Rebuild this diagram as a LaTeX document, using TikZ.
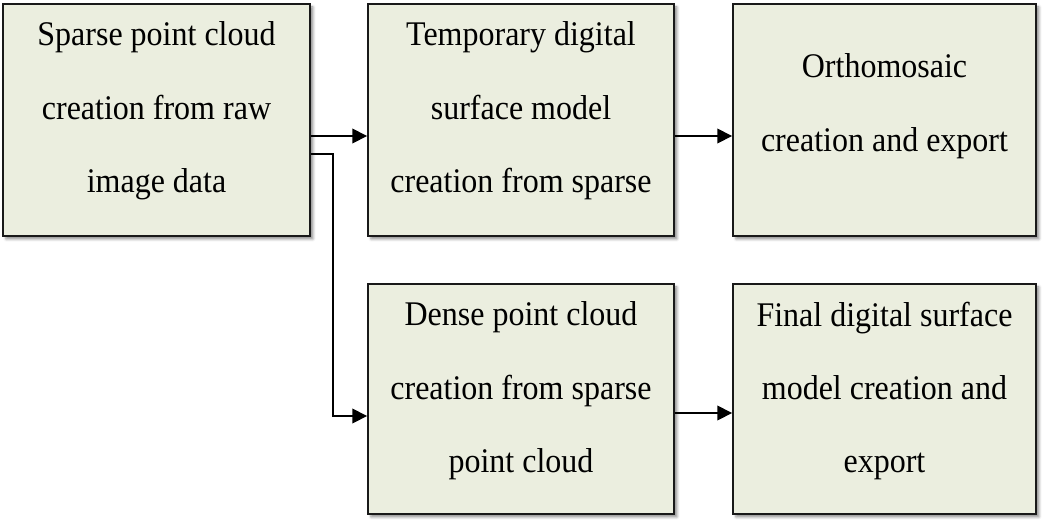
\documentclass[tikz,border=0pt]{standalone}
\usepackage{fontspec}
\setmainfont{Liberation Serif}
\usetikzlibrary{arrows.meta,shadows.blur}
\definecolor{boxfill}{RGB}{235,238,223}
\definecolor{boxline}{RGB}{25,25,25}
\tikzset{
  x=0.75pt, y=-0.75pt,
  stage/.style={draw=boxline, line width=1.4pt, fill=boxfill, inner sep=0pt,
    blur shadow={shadow xshift=2.2pt, shadow yshift=-2.2pt,
      shadow blur radius=2pt, shadow opacity=45}},
  label/.style={align=center, inner sep=0pt, transform shape, yscale=1.08,
    font=\fontsize{24pt}{51pt}\selectfont},
  flow/.style={draw=black, line width=1.1pt,
    -{Triangle[length=11pt,width=11pt]}},
}
\begin{document}
\begin{tikzpicture}
\useasboundingbox (0,0) rectangle (1042,519);
% process stages
\node[stage, minimum width=307*0.75pt, minimum height=232*0.75pt] (b1) at (156.5,120) {};
\node[stage, minimum width=306*0.75pt, minimum height=232*0.75pt] (b2) at (521,120) {};
\node[stage, minimum width=303*0.75pt, minimum height=232*0.75pt] (b3) at (884.5,120) {};
\node[stage, minimum width=306*0.75pt, minimum height=230*0.75pt] (b4) at (521,399) {};
\node[stage, minimum width=303*0.75pt, minimum height=230*0.75pt] (b5) at (884.5,399) {};
% stage texts
\node[label] (t1) at ([yshift=6.75pt]b1.center) {Sparse point cloud\\creation from raw\\image data};
\node[label] (t2) at ([yshift=6.75pt]b2.center) {Temporary digital\\surface model\\creation from sparse};
\node[label] (t3) at ([yshift=10.5pt]b3.center) {Orthomosaic\\creation and export};
\node[label] (t4) at ([yshift=6pt]b4.center) {Dense point cloud\\creation from sparse\\point cloud};
\node[label] (t5) at ([yshift=6pt]b5.center) {Final digital surface\\model creation and\\export};
% connectors
\coordinate (k) at (333,154);
\draw[flow] ([yshift=-12pt]b1.east) -- ([yshift=-12pt]b2.west);
\draw[flow] ([yshift=-25.5pt]b1.east) -- (k) |- ([yshift=-12.75pt]b4.west);
\draw[flow] ([yshift=-12pt]b2.east) -- ([yshift=-12pt]b3.west);
\draw[flow] ([yshift=-10.5pt]b4.east) -- ([yshift=-10.5pt]b5.west);
\end{tikzpicture}
\end{document}
